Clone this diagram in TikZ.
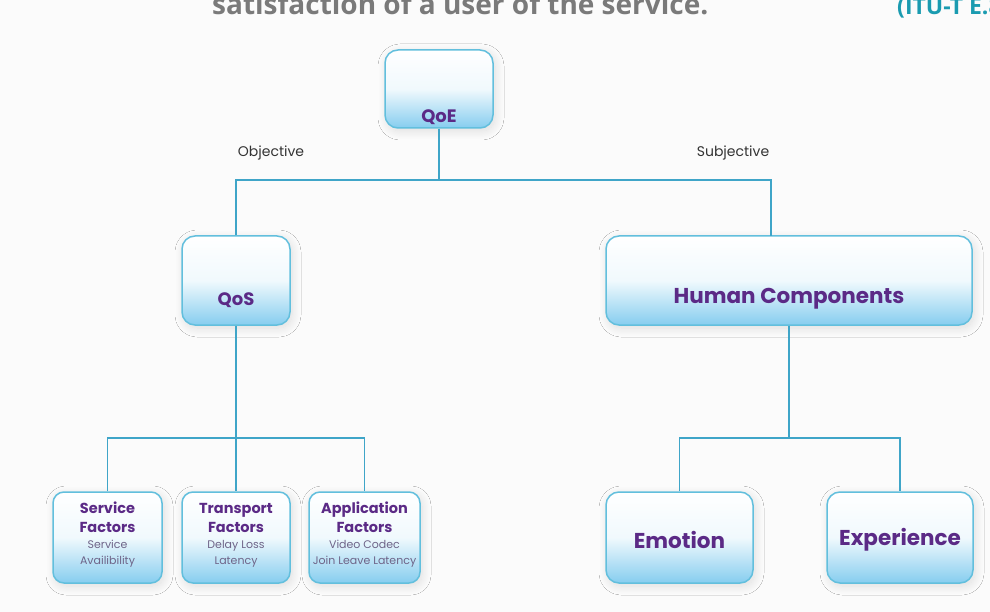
\documentclass[tikz,border=0pt]{standalone}
\usepackage{fontspec}
\usetikzlibrary{shadows.blur}
\newfontfamily\pop{Poppins}
\newfontfamily\osans{Open Sans}
\definecolor{bgc}{HTML}{FBFBFB}
\definecolor{boxblue}{HTML}{86CDEF}
\definecolor{edgeblue}{HTML}{62BFDD}
\definecolor{linkblue}{HTML}{3FA5C8}
\definecolor{labpurple}{HTML}{5B2A86}
\definecolor{smallpurple}{HTML}{6E6488}
\definecolor{titlegray}{HTML}{7A7A7A}
\definecolor{teal}{HTML}{1A9BB0}
\tikzset{
  qbox/.style={draw=edgeblue, line width=1.5pt, rounded corners=13pt,
    top color=white, bottom color=boxblue, middle color=white!88!boxblue,
    blur shadow={shadow xshift=2pt, shadow yshift=-3pt, shadow opacity=12, shadow blur radius=9pt, shadow blur steps=16},
    inner sep=0pt},
  biglab/.style={font=\pop\bfseries\fontsize{21.5}{24}\selectfont, text=labpurple, inner sep=0pt},
  midlab/.style={font=\pop\bfseries\fontsize{14.5}{19}\selectfont, text=labpurple, inner sep=0pt, align=center},
  smalllab/.style={font=\pop\fontsize{11}{16}\selectfont, text=smallpurple, inner sep=0pt, align=center},
  sidelab/.style={font=\pop\fontsize{14}{16}\selectfont, text=black!80, inner sep=0pt},
  link/.style={draw=linkblue, line width=1.6pt}
}
\begin{document}
\begin{tikzpicture}[x=1pt,y=-1pt]
\useasboundingbox (0,0) rectangle (990,612);
\fill[bgc] (0,0) rectangle (990,612);
\begin{scope}
\clip (0,0) rectangle (990,612);
\node[anchor=base west, inner sep=0pt, font=\osans\bfseries\fontsize{28}{30}\selectfont, text=titlegray] (title) at (212,15) {satisfaction of a user of the service.};
\node[anchor=base west, inner sep=0pt, font=\osans\bfseries\fontsize{23}{25}\selectfont, text=teal] (ref) at (897,15) {(ITU-T E.800)};
\end{scope}

% boxes
\node[qbox, minimum width=108pt, minimum height=78pt] (qoe) at (439,89) {};
\node[qbox, minimum width=108pt, minimum height=89pt] (qos) at (236,280.5) {};
\node[qbox, minimum width=366pt, minimum height=89pt] (hc) at (789,280.5) {};
\node[qbox, rounded corners=11pt, minimum width=109pt, minimum height=91pt] (sf) at (107.5,537.5) {};
\node[qbox, rounded corners=11pt, minimum width=108pt, minimum height=91pt] (tf) at (236,537.5) {};
\node[qbox, rounded corners=11pt, minimum width=111pt, minimum height=91pt] (af) at (364.5,537.5) {};
\node[qbox, minimum width=147pt, minimum height=91pt] (emo) at (679.5,537.5) {};
\node[qbox, minimum width=146pt, minimum height=91pt] (exp) at (900,537.5) {};

% labels
\node[biglab, font=\pop\bfseries\fontsize{18}{20}\selectfont] (qoeT) at (439,117) {QoE};
\node[biglab, font=\pop\bfseries\fontsize{18}{20}\selectfont] (qosT) at (236,300) {QoS};
\node[biglab] (hcT) at (789,299) {Human Components};
\node[biglab] (emoT) at (679.5,540) {Emotion};
\node[biglab] (expT) at (900,540) {Experience};

\node[midlab] (sfT) at (107.5,517.5) {Service\\Factors};
\node[smalllab] (sfS) at (107.5,553.5) {Service\\Availibility};
\node[midlab] (tfT) at (236,517.5) {Transport\\Factors};
\node[smalllab] (tfS) at (236,553.5) {Delay Loss\\Latency};
\node[midlab] (afT) at (364.5,517.5) {Application\\Factors};
\node[smalllab] (afS) at (364.5,553.5) {Video Codec\\Join Leave Latency};

\node[sidelab] (obj) at (271,153) {Objective};
\node[sidelab] (subj) at (733,153) {Subjective};

% connectors
\coordinate (j1) at (439,180);
\coordinate (lt) at (236,180);
\coordinate (rt) at (771,180);
\coordinate (hcin) at (771,236);
\coordinate (j2) at (236,438);
\coordinate (j3) at (789,438);

\draw[link] (qoe.south) -- (j1);
\draw[link] (qos.north) -- (lt) -- (rt) -- (hcin);
\draw[link] (qos.south) -- (j2);
\draw[link] (sf.north) |- (j2) -| (af.north);
\draw[link] (j2) -- (tf.north);
\draw[link] (hc.south) -- (j3);
\draw[link] (emo.north) |- (j3) -| (exp.north);
\end{tikzpicture}
\end{document}
